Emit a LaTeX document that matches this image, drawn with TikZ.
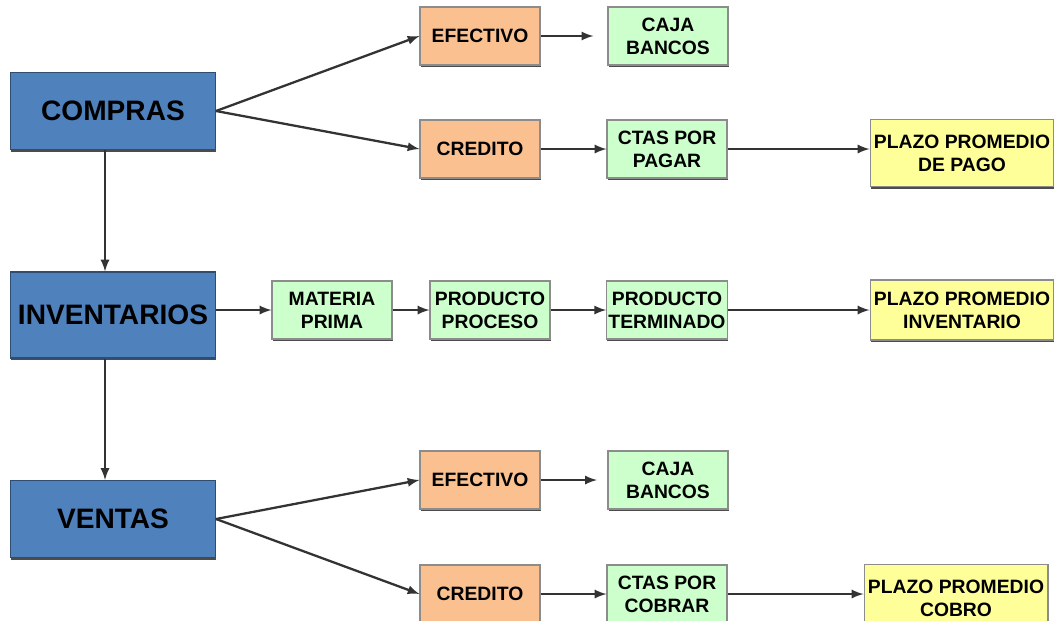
\documentclass[tikz,border=0pt]{standalone}
\usepackage{fontspec}
\setmainfont{Liberation Sans}
\usetikzlibrary{arrows,shadows,positioning}

\definecolor{azul}{HTML}{4F81BD}
\definecolor{naranja}{HTML}{FAC090}
\definecolor{verde}{HTML}{CCFFCC}
\definecolor{amarillo}{HTML}{FFFF99}

\tikzset{
  caja/.style={rectangle, draw=black!45, line width=0.6pt, align=center, inner sep=1pt,
    drop shadow={shadow xshift=0.4pt, shadow yshift=-1.4pt, fill=black!70, opacity=1}},
  cuenta/.style={caja, fill=azul, draw=azul!60!black, minimum width=4.1cm, minimum height=1.54cm,
    font=\fontsize{16}{18}\selectfont\bfseries},
  forma/.style={caja, fill=naranja, minimum width=2.4cm, minimum height=1.16cm,
    font=\fontsize{11}{13}\selectfont\bfseries},
  destino/.style={caja, fill=verde, minimum width=2.4cm, minimum height=1.16cm,
    font=\fontsize{11}{13}\selectfont\bfseries},
  plazo/.style={caja, fill=amarillo, minimum width=3.68cm, minimum height=1.34cm,
    font=\fontsize{11}{13}\selectfont\bfseries},
  flecha/.style={->, >=latex, line width=1.3pt, draw=black!80}
}

\begin{document}
\begin{tikzpicture}[x=0.02cm, y=-0.02cm]
  \clip (0,0) rectangle (1054,620); %Picture frame

  %Main accounts
  \node[cuenta] (compras) at (113,111) {COMPRAS};
  \node[cuenta, minimum height=1.72cm] (invent) at (113,315) {INVENTARIOS};
  \node[cuenta] (ventas) at (113,519) {VENTAS};

  %Purchases row
  \node[forma] (efecA) at (480,36) {EFECTIVO};
  \node[forma] (credA) at (480,149) {CREDITO};
  \node[destino] (cajaA) at (668,36) {CAJA\\BANCOS};
  \node[destino] (ctasA) at (667,149) {CTAS POR\\PAGAR};
  \node[plazo] (plazoA) at (962,153) {PLAZO PROMEDIO\\DE PAGO};

  %Inventory row
  \node[destino] (materia) at (332,310) {MATERIA\\PRIMA};
  \node[destino] (proceso) at (490,310) {PRODUCTO\\PROCESO};
  \node[destino] (termin) at (667,310) {PRODUCTO\\TERMINADO};
  \node[plazo, minimum height=1.2cm] (plazoB) at (962,310) {PLAZO PROMEDIO\\INVENTARIO};

  %Sales row
  \node[forma] (efecC) at (480,480) {EFECTIVO};
  \node[forma] (credC) at (480,594) {CREDITO};
  \node[destino] (cajaC) at (668,480) {CAJA\\BANCOS};
  \node[destino] (ctasC) at (667,594) {CTAS POR\\COBRAR};
  \node[plazo] (plazoC) at (956,598) {PLAZO PROMEDIO\\COBRO};

  %Connectors
  \draw[flecha] (compras.east) -- (efecA.west); %Cash purchase
  \draw[flecha] (compras.east) -- (credA.west); %Credit purchase
  \draw[flecha, shorten >=8pt] (efecA.east) -- (cajaA.west);
  \draw[flecha] (credA.east) -- (ctasA.west);
  \draw[flecha] (ctasA.east) -- (ctasA.east -| plazoA.west);

  \draw[flecha] ([xshift=-0.16cm]compras.south) -- ([xshift=-0.16cm]invent.north); %Down to stock
  \draw[flecha] ([xshift=-0.16cm]invent.south) -- ([xshift=-0.16cm]ventas.north); %Down to sales

  \draw[flecha] (invent.east |- materia.west) -- (materia.west);
  \draw[flecha] (materia.east) -- (proceso.west);
  \draw[flecha] (proceso.east) -- (termin.west);
  \draw[flecha] (termin.east) -- (plazoB.west);

  \draw[flecha] (ventas.east) -- (efecC.west); %Cash sale
  \draw[flecha] (ventas.east) -- (credC.west); %Credit sale
  \draw[flecha, shorten >=6pt] (efecC.east) -- (cajaC.west);
  \draw[flecha] (credC.east) -- (ctasC.west);
  \draw[flecha] (ctasC.east) -- (ctasC.east -| plazoC.west);
\end{tikzpicture}
\end{document}
